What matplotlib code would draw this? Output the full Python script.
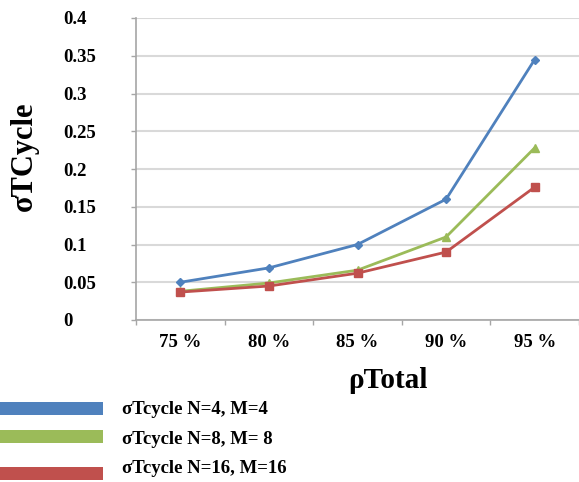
import matplotlib
matplotlib.use("Agg")
import matplotlib.pyplot as plt
from matplotlib.patches import Rectangle

categories = ["75 %", "80 %", "85 %", "90 %", "95 %"]
series_labels = ["σTcycle N=4, M=4", "σTcycle N=8, M= 8", "σTcycle N=16, M=16"]
n4_m4 = [0.050, 0.069, 0.100, 0.160, 0.345]
n8_m8 = [0.038, 0.049, 0.066, 0.110, 0.228]
n16_m16 = [0.037, 0.045, 0.062, 0.090, 0.176]
y_ticks = [0, 0.05, 0.1, 0.15, 0.2, 0.25, 0.3, 0.35, 0.4]
y_tick_labels = ["0", "0.05", "0.1", "0.15", "0.2", "0.25", "0.3", "0.35", "0.4"]

colors = ["#4F81BD", "#9BBB59", "#C0504D"]
markers = ["D", "^", "s"]
msizes = [4.5, 6, 6]

plt.rcParams["font.family"] = ["Liberation Serif", "DejaVu Serif"]
plt.rcParams["font.weight"] = "bold"

W, H = 579, 482
PX = 72 / 100  # points per pixel
fig = plt.figure(figsize=(W / 100, H / 100), dpi=100)
ax = fig.add_axes([136 / W, 1 - 320 / H, (579 - 136) / W, (320 - 18) / H])

x = list(range(len(categories)))
for vals, c, m, ms in zip([n4_m4, n8_m8, n16_m16], colors, markers, msizes):
    ax.plot(x, vals, color=c, lw=2, marker=m, markersize=ms, zorder=3)

ax.set_xlim(-0.5, 4.47)
ax.set_ylim(0, 0.4)
ax.set_yticks(y_ticks)
ax.set_yticklabels(y_tick_labels, fontsize=13.5, fontweight="bold")
ax.set_xticks(x)
ax.set_xticklabels(categories, fontsize=13.5, fontweight="bold")
ax.set_xticks([i + 0.5 for i in range(-1, len(categories))], minor=True)
ax.tick_params(axis="x", which="major", length=0, pad=10)
ax.tick_params(axis="x", which="minor", length=5 * PX, color="#a6a6a6", width=1)
ax.tick_params(axis="y", length=5 * PX, color="#a6a6a6", width=1,
               pad=(136 - 5 - 63) * PX)
for lbl in ax.get_yticklabels():
    lbl.set_horizontalalignment("left")

ax.grid(axis="y", color="#d9d9d9", lw=1.5, zorder=0)
ax.set_axisbelow(True)
for s in ["top", "right"]:
    ax.spines[s].set_visible(False)
for s in ["left", "bottom"]:
    ax.spines[s].set_color("#a6a6a6")
    ax.spines[s].set_linewidth(1.2)

fig.text(388 / W, 1 - 388 / H, "ρTotal", fontsize=21, fontweight="bold",
         ha="center", va="baseline")
fig.text(32 / W, 1 - 156 / H, "σTCycle", fontsize=22, fontweight="bold",
         ha="center", va="baseline", rotation=90, rotation_mode="anchor")

# legend drawn as colour bars with labels below the plot
bar_tops = [402, 430, 467]
baselines = [414, 444, 473]
for c, top, bl, lab in zip(colors, bar_tops, baselines, series_labels):
    fig.add_artist(Rectangle((0, 1 - (top + 13) / H), 103 / W, 13 / H,
                             transform=fig.transFigure, color=c, lw=0))
    fig.text(122 / W, 1 - bl / H, lab, fontsize=13.5, fontweight="bold",
             ha="left", va="baseline")

fig.savefig("out.png", dpi=100)
